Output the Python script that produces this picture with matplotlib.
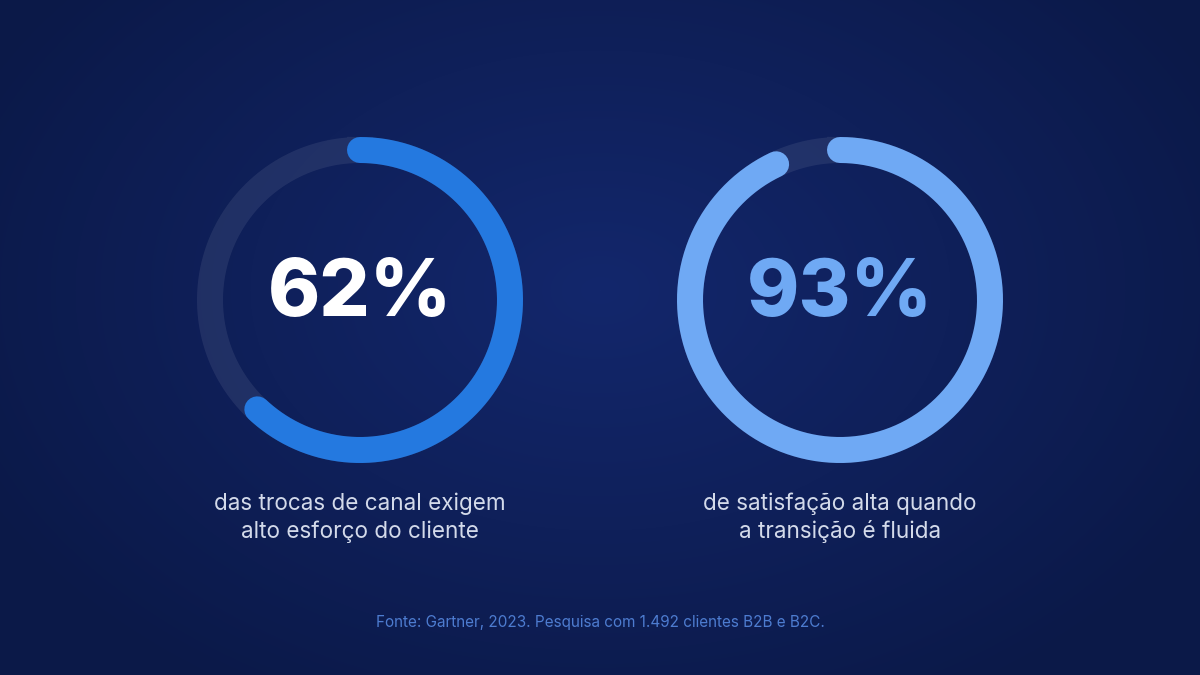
import numpy as np
import matplotlib.pyplot as plt

# data
values = [62, 93]
value_labels = ['62%', '93%']
captions = ['das trocas de canal exigem\nalto esforço do cliente',
            'de satisfação alta quando\na transição é fluida']
source = 'Fonte: Gartner, 2023. Pesquisa com 1.492 clientes B2B e B2C.'

ring_colors = ['#2479e0', '#6fa9f4']
number_colors = ['#ffffff', '#6fa9f4']
centers_x = [360, 840]
center_y = 300
radius = 150

fig = plt.figure(figsize=(12, 6.75), dpi=100)
ax = fig.add_axes([0, 0, 1, 1])
ax.set_xlim(0, 1200)
ax.set_ylim(675, 0)
ax.axis('off')

# radial background glow
yy, xx = np.mgrid[0:675, 0:1200]
d = np.sqrt(((xx - 600) / 700.0) ** 2 + ((yy - 290) / 480.0) ** 2)
d = np.clip(d, 0, 1)
c_in = np.array([0x13, 0x27, 0x6c]) / 255.0
c_out = np.array([0x0b, 0x19, 0x48]) / 255.0
bg = c_in[None, None, :] * (1 - d[..., None]) + c_out[None, None, :] * d[..., None]
ax.imshow(bg, extent=[0, 1200, 675, 0], zorder=0, aspect='auto')

lw = 26 * 0.72  # 26 px ring
for i in range(len(values)):
    cx = centers_x[i]
    # track
    t = np.linspace(0, 2 * np.pi, 400)
    ax.plot(cx + radius * np.sin(t), center_y - radius * np.cos(t),
            color='white', alpha=0.08, lw=lw, zorder=1)
    # value arc, clockwise from 12 o'clock
    t = np.linspace(0, 2 * np.pi * values[i] / 100.0, 400)
    ax.plot(cx + radius * np.sin(t), center_y - radius * np.cos(t),
            color=ring_colors[i], lw=lw, solid_capstyle='round', zorder=2)
    ax.text(cx, 287, value_labels[i], color=number_colors[i], fontsize=57,
            fontweight='heavy', family='Inter', ha='center', va='center_baseline',
            zorder=3)
    ax.text(cx, 518, captions[i], color='#d3daea', fontsize=16.2,
            family='Inter', ha='center', va='center', linespacing=1.3, zorder=3)

ax.text(600, 623, source, color='#4d7cd0', fontsize=11, family='Inter',
        ha='center', va='center', zorder=3)

fig.savefig('out.png', dpi=100)
